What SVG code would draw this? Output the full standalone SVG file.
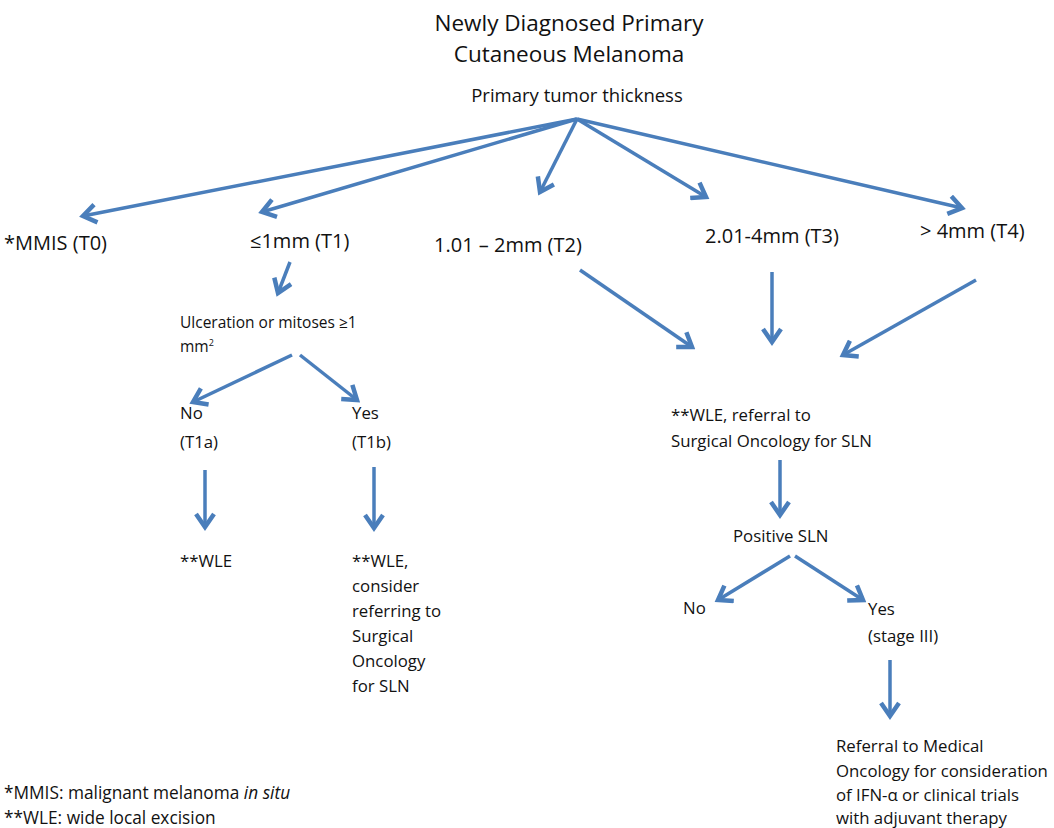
<svg xmlns="http://www.w3.org/2000/svg" width="1054" height="828" viewBox="0 0 1054 828">
<style>
text{font-family:"Open Sans","Noto Sans",sans-serif;fill:#111}
.t{font-size:22.5px}
.h{font-size:18.5px}
.l{font-size:20px}
.s{font-size:16.8px}
.u{font-size:15.5px}
.f{font-size:17.3px}
.c{stroke:#4a7ebb;stroke-width:3.5;fill:none}
</style>
<defs>
<marker id="ah" markerUnits="userSpaceOnUse" viewBox="0 0 22 22" refX="18" refY="11" markerWidth="22" markerHeight="22" orient="auto">
<path d="M5,2 L18,11 L5,20" fill="none" stroke="#4a7ebb" stroke-width="4.5" stroke-linejoin="miter"/>
</marker>
</defs>
<rect width="1054" height="828" fill="#fff"/>
<g id="title"><text class="t" x="569" y="31" text-anchor="middle">Newly Diagnosed Primary</text><text class="t" x="569" y="62" text-anchor="middle">Cutaneous Melanoma</text></g>
<g id="thickness"><text class="h" x="577" y="102" text-anchor="middle">Primary tumor thickness</text></g>
<g id="t0"><text class="l" x="4" y="250">*MMIS (T0)</text></g>
<g id="t1"><text class="l" x="250" y="248">≤1mm (T1)</text></g>
<g id="t2"><text class="l" x="434" y="252">1.01 – 2mm (T2)</text></g>
<g id="t3"><text class="l" x="705" y="243">2.01-4mm (T3)</text></g>
<g id="t4"><text class="l" x="920" y="238">&gt; 4mm (T4)</text></g>
<g id="ulc"><text class="u" x="180" y="328">Ulceration or mitoses ≥1</text><text class="u" x="180" y="352">mm<tspan font-size="9" dy="-6">2</tspan></text></g>
<g id="no1"><text class="s" x="180" y="419">No</text><text class="s" x="180" y="448">(T1a)</text></g>
<g id="yes1"><text class="s" x="352" y="419">Yes</text><text class="s" x="352" y="448">(T1b)</text></g>
<g id="wle1"><text class="s" x="180" y="567">**WLE</text></g>
<g id="wle2"><text class="s" x="352" y="567">**WLE,</text><text class="s" x="352" y="592">consider</text><text class="s" x="352" y="617">referring to</text><text class="s" x="352" y="642">Surgical</text><text class="s" x="352" y="667">Oncology</text><text class="s" x="352" y="692">for SLN</text></g>
<g id="wle3"><text class="s" x="671" y="421">**WLE, referral to</text><text class="s" x="671" y="447">Surgical Oncology for SLN</text></g>
<g id="pos"><text class="s" x="733" y="542">Positive SLN</text></g>
<g id="no2"><text class="s" x="683" y="614">No</text></g>
<g id="yes2"><text class="s" x="868" y="615">Yes</text><text class="s" x="868" y="642">(stage III)</text></g>
<g id="ref"><text class="s" x="836" y="752">Referral to Medical</text><text class="s" x="836" y="777">Oncology for consideration</text><text class="s" x="836" y="801">of IFN-α or clinical trials</text><text class="s" x="836" y="824">with adjuvant therapy</text></g>
<g id="notes"><text class="f" x="4" y="799">*MMIS: malignant melanoma <tspan font-style="italic">in situ</tspan></text><text class="f" x="4" y="824">**WLE: wide local excision</text></g>
<g id="connectors">
<line x1="577" y1="119" x2="83" y2="216" class="c" marker-end="url(#ah)"/>
<line x1="577" y1="119" x2="262" y2="212" class="c" marker-end="url(#ah)"/>
<line x1="577" y1="119" x2="540" y2="192" class="c" marker-end="url(#ah)"/>
<line x1="577" y1="119" x2="706" y2="197" class="c" marker-end="url(#ah)"/>
<line x1="577" y1="119" x2="962" y2="208" class="c" marker-end="url(#ah)"/>
<line x1="290" y1="262" x2="278" y2="293" class="c" marker-end="url(#ah)"/>
<line x1="292" y1="355" x2="193" y2="402" class="c" marker-end="url(#ah)"/>
<line x1="300" y1="355" x2="357" y2="400" class="c" marker-end="url(#ah)"/>
<line x1="205" y1="470" x2="205" y2="527" class="c" marker-end="url(#ah)"/>
<line x1="374" y1="467" x2="374" y2="528" class="c" marker-end="url(#ah)"/>
<line x1="580" y1="270" x2="692" y2="347" class="c" marker-end="url(#ah)"/>
<line x1="772" y1="272" x2="772" y2="342" class="c" marker-end="url(#ah)"/>
<line x1="976" y1="280" x2="843" y2="355" class="c" marker-end="url(#ah)"/>
<line x1="780" y1="460" x2="780" y2="515" class="c" marker-end="url(#ah)"/>
<line x1="790" y1="556" x2="718" y2="600" class="c" marker-end="url(#ah)"/>
<line x1="795" y1="556" x2="863" y2="600" class="c" marker-end="url(#ah)"/>
<line x1="890" y1="660" x2="890" y2="716" class="c" marker-end="url(#ah)"/>
</g>
</svg>
